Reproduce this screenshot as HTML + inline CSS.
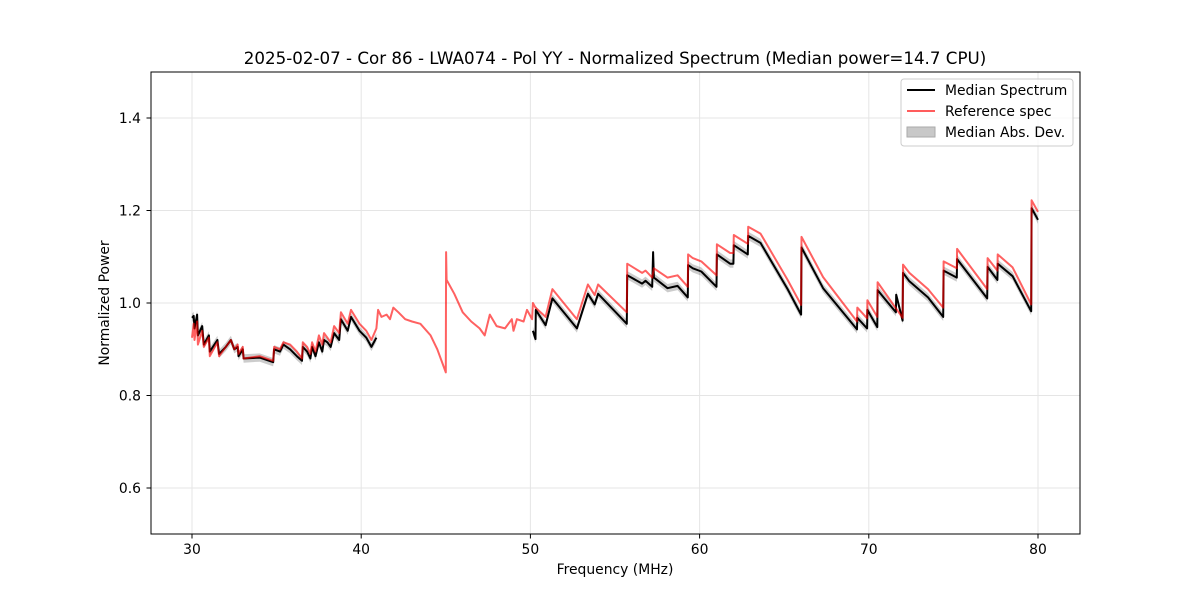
<!DOCTYPE html>
<html><head><meta charset="utf-8"><style>
body{margin:0;background:#fff;}
svg{font-family:"DejaVu Sans","Liberation Sans",sans-serif;}
</style></head><body>
<svg id="chart" width="1200" height="600" viewBox="0 0 1200 600" xmlns="http://www.w3.org/2000/svg">
<rect width="1200" height="600" fill="#fff"/>
<g id="grid"></g>
<g id="series"></g>
<rect x="151" y="72" width="929" height="462" fill="none" stroke="#000" stroke-width="1"/>
<g id="axes"></g>
<text x="615" y="64" text-anchor="middle" font-size="16.7">2025-02-07 - Cor 86 - LWA074 - Pol YY - Normalized Spectrum (Median power=14.7 CPU)</text>
<text x="615" y="574" text-anchor="middle" font-size="13.9">Frequency (MHz)</text>
<text x="109" y="303" text-anchor="middle" font-size="13.9" transform="rotate(-90 109 303)">Normalized Power</text>
<g>
<rect x="901" y="79" width="172" height="67" rx="3" fill="#fff" fill-opacity="0.8" stroke="#ccc"/>
<g><line x1="907" y1="90" x2="935" y2="90" stroke="#000" stroke-width="2"/><text x="945" y="95" font-size="13.9">Median Spectrum</text></g>
<g><line x1="907" y1="111" x2="935" y2="111" stroke="#ff5c5c" stroke-width="2"/><text x="945" y="116" font-size="13.9">Reference spec</text></g>
<g><rect x="907" y="127" width="28" height="10" fill="#c8c8c8" stroke="#aaa"/><text x="945" y="137" font-size="13.9">Median Abs. Dev.</text></g>
</g>
</svg>
<script>
const xTicks=[30,40,50,60,70,80];
const yTicks=[0.6,0.8,1.0,1.2,1.4];
const yTickLabels=["0.6","0.8","1.0","1.2","1.4"];
const refFreq=[30.0,30.1,30.15,30.3,30.35,30.6,30.7,31.0,31.05,31.5,31.6,32.0,32.3,32.5,32.7,32.75,33.0,33.05,34.0,34.8,34.85,35.2,35.4,35.8,36.2,36.5,36.55,36.8,37.0,37.1,37.3,37.5,37.7,37.8,38.0,38.2,38.4,38.7,38.8,39.2,39.4,39.9,40.3,40.6,40.9,41.0,41.2,41.5,41.7,41.9,42.2,42.6,43.0,43.5,44.1,44.5,45.0,45.02,45.05,45.5,46.0,46.5,47.0,47.3,47.6,48.0,48.5,48.9,49.0,49.2,49.6,49.8,50.1,50.15,50.3,50.9,51.3,52.75,53.4,53.8,54.0,55.7,55.72,56.6,56.8,57.2,57.3,58.1,58.7,59.3,59.32,59.6,60.1,61.0,61.02,61.8,62.0,62.02,62.85,62.87,63.6,65.2,66.0,66.02,67.3,69.3,69.32,69.9,69.92,70.5,70.52,72.0,72.02,72.4,73.5,74.4,74.42,75.2,75.22,77.0,77.02,77.6,77.62,78.5,79.6,79.62,80.0];
const refVal=[0.925,0.955,0.92,0.96,0.91,0.94,0.905,0.925,0.885,0.915,0.885,0.905,0.92,0.9,0.91,0.89,0.905,0.88,0.885,0.875,0.905,0.9,0.915,0.91,0.895,0.88,0.915,0.905,0.89,0.915,0.895,0.93,0.91,0.935,0.925,0.915,0.95,0.935,0.98,0.955,0.985,0.955,0.94,0.92,0.945,0.985,0.97,0.975,0.965,0.99,0.98,0.965,0.96,0.955,0.93,0.9,0.85,1.11,1.05,1.02,0.98,0.96,0.945,0.93,0.975,0.95,0.945,0.965,0.94,0.965,0.96,0.985,0.965,1.0,0.99,0.97,1.03,0.965,1.04,1.017,1.04,0.98,1.085,1.065,1.07,1.055,1.075,1.055,1.06,1.035,1.105,1.097,1.09,1.06,1.127,1.108,1.108,1.147,1.128,1.165,1.15,1.05,0.996,1.143,1.056,0.96,0.99,0.967,1.006,0.97,1.045,0.968,1.083,1.065,1.03,0.99,1.09,1.075,1.117,1.03,1.097,1.07,1.105,1.077,0.997,1.222,1.197];
const medFreqA=[30.0,30.1,30.15,30.3,30.35,30.6,30.7,31.0,31.05,31.5,31.6,32.0,32.3,32.5,32.7,32.75,33.0,33.05,34.0,34.8,34.85,35.2,35.4,35.8,36.2,36.5,36.55,36.8,37.0,37.1,37.3,37.5,37.7,37.8,38.0,38.2,38.4,38.7,38.8,39.2,39.4,39.9,40.3,40.6,40.9];
const medValA=[0.968,0.972,0.945,0.975,0.93,0.95,0.91,0.93,0.895,0.92,0.89,0.905,0.92,0.9,0.905,0.885,0.9,0.88,0.882,0.872,0.9,0.895,0.91,0.9,0.885,0.875,0.905,0.895,0.88,0.905,0.885,0.915,0.895,0.92,0.915,0.905,0.935,0.92,0.965,0.94,0.97,0.94,0.925,0.905,0.925];
const medFreqB=[50.15,50.3,50.32,50.9,51.3,52.75,53.4,53.8,54.0,55.7,55.72,56.6,56.8,57.2,57.25,57.3,58.1,58.7,59.3,59.32,59.6,60.1,61.0,61.02,61.8,62.0,62.02,62.85,62.87,63.6,65.2,66.0,66.02,67.3,69.3,69.32,69.9,69.92,70.5,70.52,71.6,71.62,72.0,72.02,72.4,73.5,74.4,74.42,75.2,75.22,77.0,77.02,77.6,77.62,78.5,79.6,79.62,80.0];
const medValB=[0.94,0.922,0.985,0.952,1.01,0.945,1.02,0.997,1.02,0.955,1.06,1.042,1.048,1.035,1.11,1.055,1.032,1.037,1.012,1.082,1.075,1.068,1.035,1.105,1.085,1.085,1.125,1.105,1.145,1.13,1.03,0.975,1.12,1.032,0.943,0.968,0.945,0.985,0.948,1.028,0.98,1.018,0.962,1.065,1.047,1.012,0.97,1.07,1.055,1.095,1.01,1.078,1.05,1.085,1.058,0.982,1.205,1.18];
const medDev=0.009;

const X0=192,X1=1038,F0=30,F1=80,Y0=303,V0=1.0,PPU=462.5;
function xs(f){return X0+(f-F0)*(X1-X0)/(F1-F0);}
function ys(v){return Y0-(v-V0)*PPU;}
const NS="http://www.w3.org/2000/svg";
function mk(tag,attrs,parent){const e=document.createElementNS(NS,tag);for(const k in attrs)e.setAttribute(k,attrs[k]);parent.appendChild(e);return e;}
const grid=document.getElementById('grid'),axes=document.getElementById('axes'),series=document.getElementById('series');
xTicks.forEach(t=>{const x=xs(t);
 const g=mk('line',{x1:x,x2:x,y1:72,y2:534,stroke:'#e5e5e5','stroke-width':1},grid);
 
 
 const tk=mk('line',{x1:x,x2:x,y1:534,y2:538.5,stroke:'#000'},axes);
 
 
 const tx=mk('text',{x:x,y:554,'text-anchor':'middle','font-size':13.9},axes);tx.textContent=String(t);
 
 
});
yTicks.forEach((t,i)=>{const y=ys(t);
 const g=mk('line',{x1:151,x2:1080,y1:y,y2:y,stroke:'#e5e5e5','stroke-width':1},grid);
 
 
 const tk=mk('line',{x1:146.5,x2:151,y1:y,y2:y,stroke:'#000'},axes);
 
 
 const tx=mk('text',{x:141,y:y+5,'text-anchor':'end','font-size':13.9},axes);tx.textContent=yTickLabels[i];
 
 
});
function pathOf(F,V,off){return F.map((f,i)=>(i?'L':'M')+xs(f).toFixed(1)+','+ys(V[i]+off).toFixed(1)).join('');}
function band(F,V,name){
 const up=F.map((f,i)=>xs(f).toFixed(1)+','+ys(V[i]+medDev).toFixed(1));
 const dn=F.map((f,i)=>xs(f).toFixed(1)+','+ys(V[i]-medDev).toFixed(1)).reverse();
 const p=mk('polygon',{points:up.concat(dn).join(' '),fill:'#000','fill-opacity':0.2},series);
 
 
}
band(medFreqA,medValA,'mad-band-low');
band(medFreqB,medValB,'mad-band-high');
const m1=mk('path',{d:pathOf(medFreqA,medValA,0),fill:'none',stroke:'#000','stroke-width':2,'stroke-linejoin':'round'},series);


const m2=mk('path',{d:pathOf(medFreqB,medValB,0),fill:'none',stroke:'#000','stroke-width':2,'stroke-linejoin':'round'},series);


const r=mk('path',{d:pathOf(refFreq,refVal,0),fill:'none',stroke:'#ff0000','stroke-opacity':0.62,'stroke-width':2,'stroke-linejoin':'round'},series);


</script>
</body></html>
